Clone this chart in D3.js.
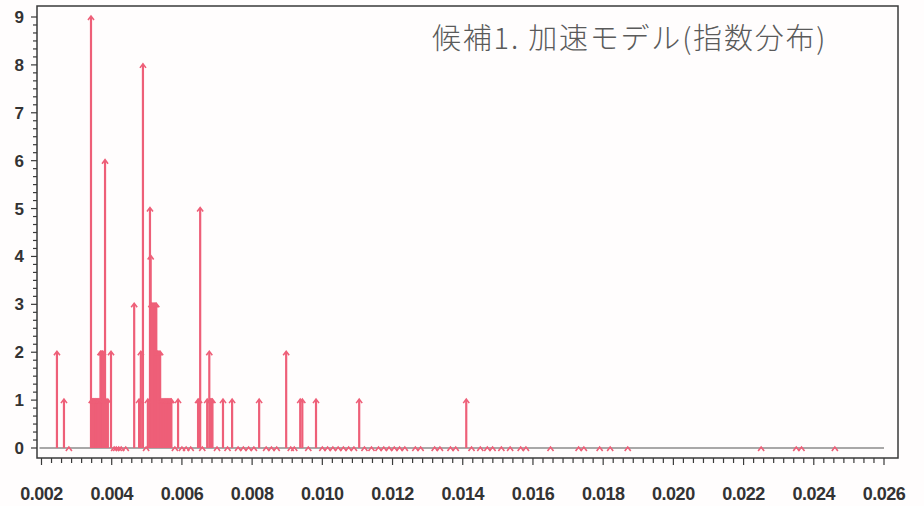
<!DOCTYPE html>
<html>
<head>
<meta charset="utf-8">
<script src="https://cdn.jsdelivr.net/npm/d3@7"></script>
<style>
  html, body { margin: 0; padding: 0; background: #fffdfd; }
  svg { display: block; }
</style>
</head>
<body>
<div id="chart"></div>
<script>
// Spike positions (x) and counts (y)
var spikeX = [
  0.00244, 0.00264, 0.00278,
  0.00341, 0.00343, 0.00345, 0.00347, 0.00349, 0.00351, 0.00353, 0.00355, 0.00357, 0.00359, 0.00361, 0.00363, 0.00365,
  0.00368, 0.00370, 0.00373, 0.00375, 0.00381, 0.00384, 0.00389, 0.00398,
  0.00407, 0.00413, 0.00420, 0.00427, 0.00440,
  0.00464, 0.00478, 0.00483, 0.00489, 0.00498, 0.00503, 0.00509, 0.00511,
  0.00513, 0.00515, 0.00518, 0.00521, 0.00524, 0.00527, 0.00530, 0.00532, 0.00535, 0.00538,
  0.00541, 0.00544, 0.00547, 0.00550, 0.00553, 0.00556, 0.00559, 0.00562, 0.00565, 0.00568, 0.00570,
  0.00580, 0.00589, 0.00600, 0.00612, 0.00625,
  0.00646, 0.00649, 0.00652, 0.00658, 0.00672, 0.00678, 0.00681, 0.00684, 0.00687,
  0.00700, 0.00717, 0.00730, 0.00743, 0.00760, 0.00775, 0.00790, 0.00805,
  0.00820, 0.00840, 0.00855, 0.00870, 0.00897, 0.00910, 0.00920, 0.00937,
  0.00943, 0.00960, 0.00982, 0.01000, 0.01015, 0.01030, 0.01045, 0.01060,
  0.01075, 0.01090, 0.01105, 0.01120, 0.01140, 0.01160, 0.01175, 0.01190,
  0.01205, 0.01220, 0.01235, 0.01265, 0.01280, 0.01320, 0.01335, 0.01365,
  0.01380, 0.01410, 0.01425, 0.01450, 0.01470, 0.01485, 0.01510, 0.01535,
  0.01565, 0.01580, 0.01650, 0.01730, 0.01745, 0.01790, 0.01820, 0.01870,
  0.02250, 0.02350, 0.02365, 0.02460
];
var spikeY = [
  2, 1, 0,
  9, 1, 1, 1, 1, 1, 1, 1, 1, 1, 1, 1, 1,
  2, 2, 2, 2, 6, 1, 1, 2,
  0, 0, 0, 0, 0,
  3, 1, 2, 8, 0, 1, 5, 4,
  3, 3, 3, 3, 3, 3, 2, 2, 2, 2,
  1, 1, 1, 1, 1, 1, 1, 1, 1, 1, 1,
  0, 1, 0, 0, 0,
  1, 1, 5, 0, 1, 2, 1, 1, 1,
  0, 1, 0, 1, 0, 0, 0, 0,
  1, 0, 0, 0, 2, 0, 0, 1,
  1, 0, 1, 0, 0, 0, 0, 0,
  0, 0, 1, 0, 0, 0, 0, 0,
  0, 0, 0, 0, 0, 0, 0, 0,
  0, 1, 0, 0, 0, 0, 0, 0,
  0, 0, 0, 0, 0, 0, 0, 0,
  0, 0, 0, 0
];
var xTicks = [0.002, 0.004, 0.006, 0.008, 0.010, 0.012, 0.014, 0.016, 0.018, 0.020, 0.022, 0.024, 0.026];
var yTicks = [0, 1, 2, 3, 4, 5, 6, 7, 8, 9];
var title = "候補1. 加速モデル(指数分布)";

var W = 924, H = 506;
var frame = { left: 37, top: 6, right: 898, bottom: 458 };
var spikeColor = "#ee5f78";
var axisColor = "#3a3a3a";

var svg = d3.select("#chart").append("svg")
  .attr("width", W).attr("height", H);

var x = d3.scaleLinear().domain([0.002, 0.026]).range([41.5, 884]);
var y = d3.scaleLinear().domain([0, 9]).range([448, 17]);

// plot background + frame
svg.append("rect")
  .attr("x", frame.left).attr("y", frame.top)
  .attr("width", frame.right - frame.left).attr("height", frame.bottom - frame.top)
  .attr("fill", "#fffdfd").attr("stroke", axisColor).attr("stroke-width", 1.5);

// y axis ticks (left, outside)
var yMinor = d3.range(0, 9.001, 1 / 6);
svg.append("g").selectAll("line").data(yMinor).join("line")
  .attr("x1", frame.left).attr("x2", function (d) {
    return Math.abs(d - Math.round(d)) < 1e-6 ? frame.left - 6 : frame.left - 4;
  })
  .attr("y1", function (d) { return y(d); }).attr("y2", function (d) { return y(d); })
  .attr("stroke", axisColor).attr("stroke-width", 1.2);

svg.append("g").selectAll("text").data(yTicks).join("text")
  .attr("x", 24).attr("y", function (d) { return y(d) + 6; })
  .attr("text-anchor", "end")
  .attr("font-family", "Liberation Sans, Arial, sans-serif")
  .attr("font-size", 17).attr("font-weight", "bold")
  .attr("fill", "#333")
  .text(function (d) { return d; });

// x axis ticks (bottom, outside)
var xMinor = d3.range(0, 12 * 7 + 1).map(function (i) { return 0.002 + i * 0.002 / 7; });
svg.append("g").selectAll("line").data(xMinor).join("line")
  .attr("x1", function (d) { return x(d); }).attr("x2", function (d) { return x(d); })
  .attr("y1", frame.bottom)
  .attr("y2", function (d, i) { return i % 7 === 0 ? frame.bottom + 7 : frame.bottom + 5; })
  .attr("stroke", axisColor).attr("stroke-width", 1.2);

svg.append("g").selectAll("text").data(xTicks).join("text")
  .attr("x", function (d) { return x(d); }).attr("y", 500)
  .attr("text-anchor", "middle")
  .attr("font-family", "Liberation Sans, Arial, sans-serif")
  .attr("font-size", 18).attr("font-weight", "bold")
  .attr("fill", "#333")
  .attr("letter-spacing", -0.5)
  .text(function (d) { return d3.format(".3f")(d); });

// zero reference line
svg.append("line")
  .attr("x1", x(0.002) - 2).attr("x2", x(0.026))
  .attr("y1", y(0)).attr("y2", y(0))
  .attr("stroke", "#555").attr("stroke-width", 1.2);

// needles
var pts = spikeX.map(function (v, i) { return { x: v, y: spikeY[i] }; });
var g = svg.append("g");
g.selectAll("line.needle").data(pts.filter(function (d) { return d.y > 0; })).join("line")
  .attr("class", "needle")
  .attr("x1", function (d) { return x(d.x); }).attr("x2", function (d) { return x(d.x); })
  .attr("y1", y(0)).attr("y2", function (d) { return y(d.y); })
  .attr("stroke", spikeColor).attr("stroke-width", 2.2);

// small arrow markers at the tips
g.selectAll("path.tip").data(pts).join("path")
  .attr("class", "tip")
  .attr("d", function (d) {
    var cx = x(d.x), cy = y(d.y);
    return "M" + (cx - 3) + "," + (cy + 3) + "L" + cx + "," + (cy - 1) + "L" + (cx + 3) + "," + (cy + 3);
  })
  .attr("fill", "none").attr("stroke", spikeColor).attr("stroke-width", 1.6);

// title
svg.append("text")
  .attr("x", 432).attr("y", 49)
  .attr("font-family", "Noto Sans CJK JP, sans-serif")
  .attr("font-size", 29).attr("font-weight", 300)
  .attr("letter-spacing", 1.8)
  .attr("fill", "#5a5a5a")
  .text(title);
</script>
</body>
</html>
